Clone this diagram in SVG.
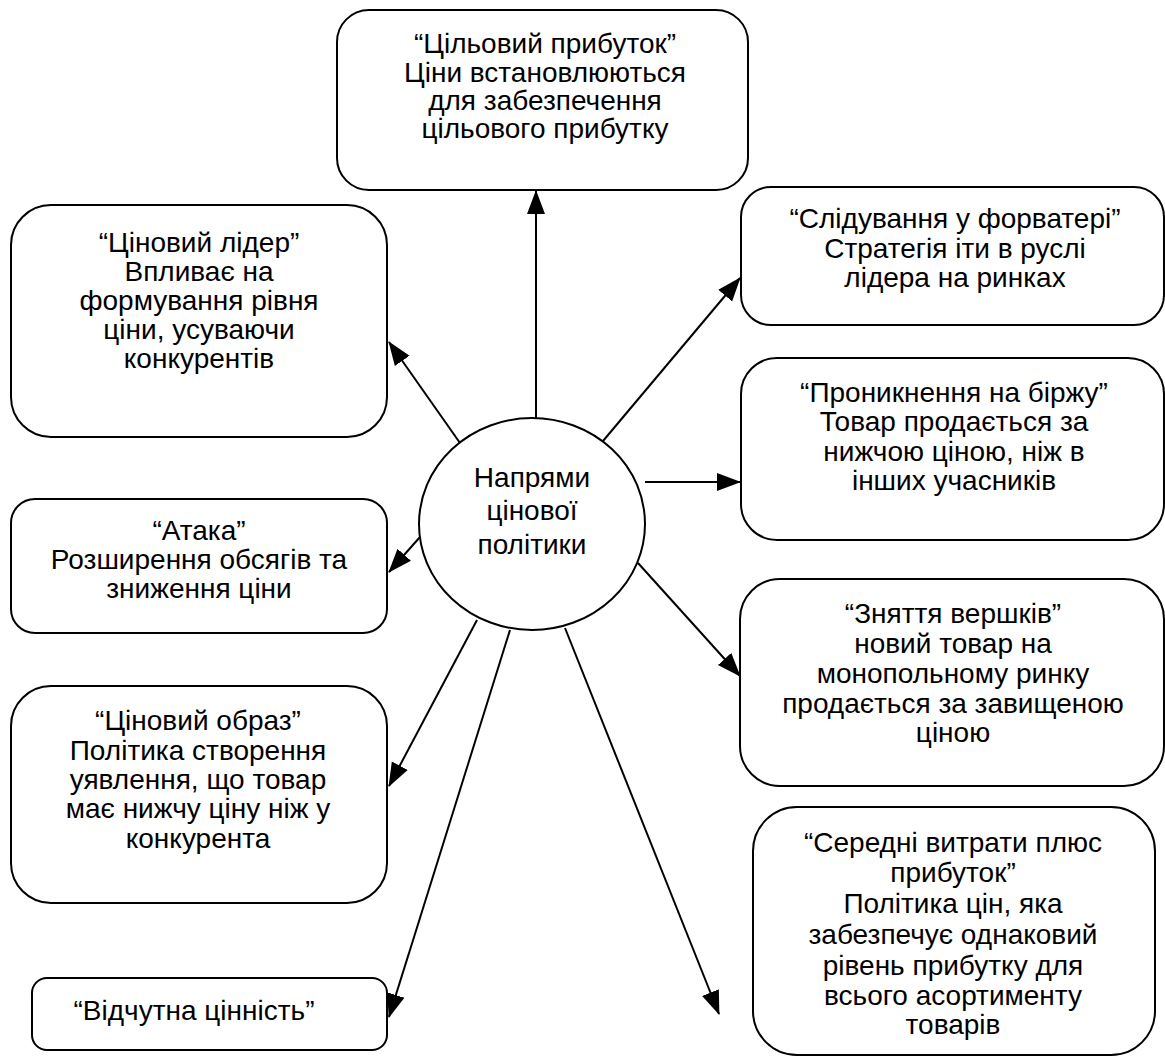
<svg xmlns="http://www.w3.org/2000/svg" width="1165" height="1057" viewBox="0 0 1165 1057">
<style>
.box{fill:#fff;stroke:#000;stroke-width:2}
.t{font-family:'Liberation Sans',Arial,sans-serif;font-size:28px;fill:#000;text-anchor:middle}
.c{stroke:#000;stroke-width:2;fill:none;marker-end:url(#ah)}
</style>
<defs>
<marker id="ah" markerUnits="userSpaceOnUse" markerWidth="24" markerHeight="20" viewBox="0 0 24 20" refX="23" refY="10" orient="auto">
<path d="M0,1 L24,10 L0,19 Z" fill="#000"/>
</marker>
</defs>
<rect width="1165" height="1057" fill="#fff"/>
<g id="connectors">
<line class="c" x1="536" y1="418" x2="536" y2="191"/>
<line class="c" x1="460" y1="443" x2="389" y2="342"/>
<line class="c" x1="420" y1="537" x2="389" y2="572"/>
<line class="c" x1="477" y1="620" x2="389" y2="786"/>
<line class="c" x1="510" y1="630" x2="389" y2="1017"/>
<line class="c" x1="603" y1="441" x2="740" y2="278"/>
<line class="c" x1="645" y1="482" x2="740" y2="482"/>
<line class="c" x1="638" y1="563" x2="740" y2="676"/>
<line class="c" x1="565" y1="628" x2="719" y2="1014"/>
</g>
<g id="center">
<ellipse class="box" cx="532" cy="524" rx="113" ry="106"/>
<text class="t" x="532" y="487">Напрями</text>
<text class="t" x="532" y="520">цінової</text>
<text class="t" x="532" y="554">політики</text>
</g>
<g id="target-profit">
<rect class="box" x="337" y="10" width="411" height="180" rx="32"/>
<text class="t" x="545" y="53">“Цільовий прибуток”</text>
<text class="t" x="545" y="82">Ціни встановлюються</text>
<text class="t" x="545" y="110">для забезпечення</text>
<text class="t" x="545" y="138">цільового прибутку</text>
</g>
<g id="price-leader">
<rect class="box" x="11" y="205" width="376" height="232" rx="40"/>
<text class="t" x="199" y="252">“Ціновий лідер”</text>
<text class="t" x="199" y="281">Впливає на</text>
<text class="t" x="199" y="310">формування рівня</text>
<text class="t" x="199" y="339">ціни, усуваючи</text>
<text class="t" x="199" y="368">конкурентів</text>
</g>
<g id="attack">
<rect class="box" x="11" y="499" width="376" height="134" rx="24"/>
<text class="t" x="199" y="540">“Атака”</text>
<text class="t" x="199" y="569">Розширення обсягів та</text>
<text class="t" x="199" y="598">зниження ціни</text>
</g>
<g id="price-image">
<rect class="box" x="11" y="686" width="376" height="217" rx="40"/>
<text class="t" x="198" y="730">“Ціновий образ”</text>
<text class="t" x="198" y="760">Політика створення</text>
<text class="t" x="198" y="789">уявлення, що товар</text>
<text class="t" x="198" y="818">має нижчу ціну ніж у</text>
<text class="t" x="198" y="848">конкурента</text>
</g>
<g id="perceived-value">
<rect class="box" x="32" y="978" width="355" height="72" rx="15"/>
<text class="t" x="194" y="1020">“Відчутна цінність”</text>
</g>
<g id="follow">
<rect class="box" x="741" y="187" width="423" height="138" rx="30"/>
<text class="t" x="955" y="228">“Слідування у форватері”</text>
<text class="t" x="955" y="258">Стратегія іти в руслі</text>
<text class="t" x="955" y="287">лідера на ринках</text>
</g>
<g id="penetration">
<rect class="box" x="741" y="358" width="423" height="182" rx="36"/>
<text class="t" x="954" y="402">“Проникнення на біржу”</text>
<text class="t" x="954" y="431">Товар продається за</text>
<text class="t" x="954" y="461">нижчою ціною, ніж в</text>
<text class="t" x="954" y="490">інших учасників</text>
</g>
<g id="skimming">
<rect class="box" x="740" y="579" width="424" height="207" rx="40"/>
<text class="t" x="953" y="623">“Зняття вершків”</text>
<text class="t" x="953" y="653">новий товар на</text>
<text class="t" x="953" y="683">монопольному ринку</text>
<text class="t" x="953" y="713">продається за завищеною</text>
<text class="t" x="953" y="742">ціною</text>
</g>
<g id="cost-plus">
<rect class="box" x="753" y="807" width="402" height="248" rx="44"/>
<text class="t" x="953" y="852">“Середні витрати плюс</text>
<text class="t" x="953" y="882">прибуток”</text>
<text class="t" x="953" y="913">Політика цін, яка</text>
<text class="t" x="953" y="944">забезпечує однаковий</text>
<text class="t" x="953" y="975">рівень прибутку для</text>
<text class="t" x="953" y="1005">всього асортименту</text>
<text class="t" x="953" y="1034">товарів</text>
</g>
</svg>
